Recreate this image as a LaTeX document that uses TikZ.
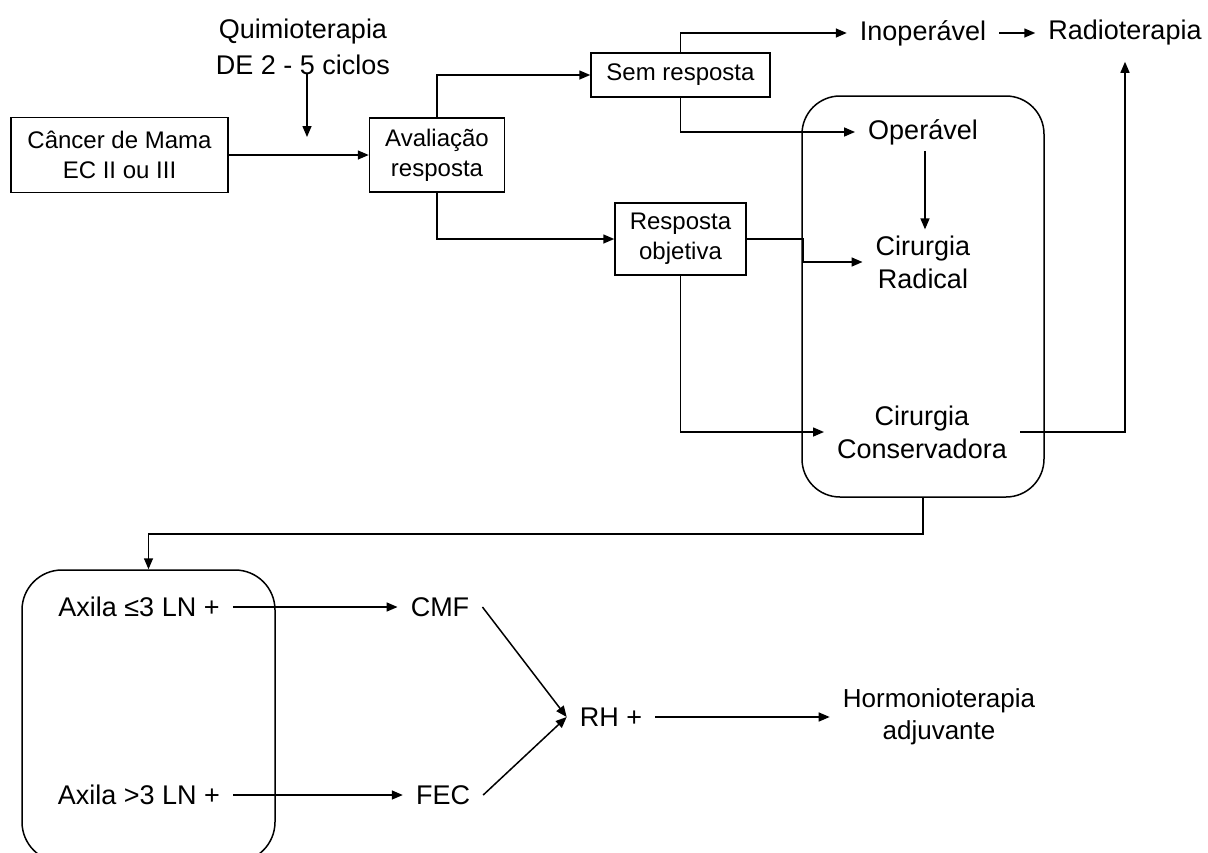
\documentclass[tikz,border=0pt]{standalone}
\usepackage{fontspec}
\setmainfont{Liberation Sans}
\usetikzlibrary{arrows.meta}
\begin{document}
\begin{tikzpicture}[x=1pt,y=-1pt,
  every node/.style={inner sep=0pt},
  ln/.style={line width=1.5pt, draw=black},
  arr/.style={ln, -{Triangle[length=11pt,width=9pt]}},
  boxtxt/.style={draw, line width=1.5pt, align=center, font=\fontsize{24}{30}\selectfont},
  freetxt/.style={align=center, inner xsep=13pt, inner ysep=6pt, font=\fontsize{27}{33}\selectfont},
  grp/.style={draw, line width=1.5pt, rounded corners=38pt}
]
\useasboundingbox (0,0) rectangle (1208,852);

% group frames
\node[grp, minimum width=242pt, minimum height=401pt] (g1) at (923,296.5) {};
\node[grp, rounded corners=40pt, minimum width=253pt, minimum height=292pt] (g2) at (148.5,716) {};

% boxes
\node[boxtxt, minimum width=217pt, minimum height=75pt] (cancer) at (119.5,155) {Câncer de Mama\\EC II ou III};
\node[boxtxt, minimum width=135pt, minimum height=74pt] (aval) at (437,155) {Avaliação\\resposta};
\node[boxtxt, minimum width=179pt, minimum height=44pt] (sem) at (680.5,75) {Sem resposta};
\node[boxtxt, minimum width=131pt, minimum height=72pt] (resp) at (680.5,239) {Resposta\\objetiva};

% free texts
\node[freetxt, font=\fontsize{27}{36}\selectfont] (quimio) at (303,47) {Quimioterapia\\DE 2 - 5 ciclos};
\node[freetxt] (inop) at (923,33) {Inoperável};
\node[freetxt] (radio) at (1125,33) {Radioterapia};
\node[freetxt] (oper) at (923,132) {Operável};
\node[freetxt] (radical) at (923,262) {Cirurgia\\Radical};
\node[freetxt] (conserv) at (922,432) {Cirurgia\\Conservadora};
\node[freetxt] (ax1) at (139,607) {Axila ≤3 LN +};
\node[freetxt] (ax2) at (139,795) {Axila >3 LN +};
\node[freetxt] (cmf) at (440,607) {CMF};
\node[freetxt] (fec) at (443,795) {FEC};
\node[freetxt] (rh) at (611,717) {RH +};
\node[freetxt, font=\fontsize{26}{32}\selectfont] (hormo) at (939,717) {Hormonioterapia\\adjuvante};

\coordinate (qtip) at (307,137);

% connectors
\draw[arr] ([shift={(4,26)}]quimio.center) -- (qtip);
\draw[arr] (cancer.east) -- (aval.west);
\draw[arr] (aval.north) |- (sem.west);
\draw[arr] (aval.south) |- (resp.west);
\draw[arr] (sem.north) |- (inop.west);
\draw[arr] (inop.east) -- (radio.west);
\draw[arr] (sem.south) |- (oper.west);
\draw[arr] ([xshift=2pt]oper.south) -- ([xshift=2pt]radical.north);
\draw[arr] (resp.east) -- ++(56,0) |- (radical.west);
\draw[arr] (resp.south) |- (conserv.west);
\draw[arr, shorten >=10pt] (conserv.east) -| (radio.south);
\draw[arr] (g1.south) -- ++(0,36) -| (g2.north);
\draw[arr] (ax1.east) -- (cmf.west);
\draw[arr] (ax2.east) -- (fec.west);
\draw[arr] (cmf.east) -- (rh.west);
\draw[arr] (fec.east) -- (rh.west);
\draw[arr] (rh.east) -- (hormo.west);
\end{tikzpicture}
\end{document}
